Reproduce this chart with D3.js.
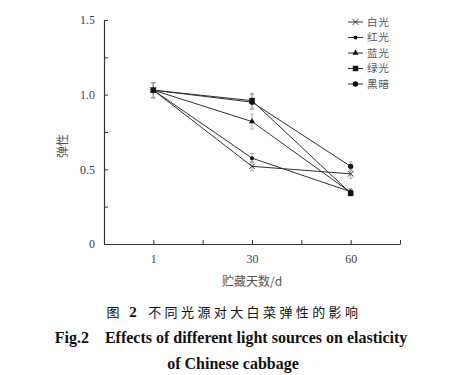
<!DOCTYPE html>
<html>
<head>
<meta charset="utf-8">
<script src="https://cdn.jsdelivr.net/npm/d3@7"></script>
<style>
  body { margin: 0; background: #fff; }
  .axis text { font-family: "Liberation Serif", serif; font-size: 12px; fill: #444; }
  .axis path, .axis line { stroke: #333; }
</style>
</head>
<body>
<svg width="452" height="375"></svg>
<script>
// storage days (categories) and elasticity of each light treatment
var days = ["1", "30", "60"];
var seriesNames = ["白光", "红光", "蓝光", "绿光", "黑暗"];
var white = [1.03, 0.52, 0.47];
var red   = [1.03, 0.575, 0.35];
var blue  = [1.03, 0.82, 0.345];
var green = [1.03, 0.96, 0.34];
var dark  = [1.03, 0.95, 0.52];
var whiteErr = [0.05, 0.03, 0.03];
var redErr   = [0.05, 0.03, 0.02];
var blueErr  = [0.05, 0.05, 0.02];
var greenErr = [0.05, 0.05, 0.02];
var darkErr  = [0.05, 0.05, 0.03];
var yTicks = [0, 0.25, 0.5, 0.75, 1.0, 1.25, 1.5];

var series = [
  {name: seriesNames[0], values: white, err: whiteErr, symbol: "star"},
  {name: seriesNames[1], values: red,   err: redErr,   symbol: "dot"},
  {name: seriesNames[2], values: blue,  err: blueErr,  symbol: "triangle"},
  {name: seriesNames[3], values: green, err: greenErr, symbol: "square"},
  {name: seriesNames[4], values: dark,  err: darkErr,  symbol: "circle"}
];

var svg = d3.select("svg"),
    margin = {top: 20, right: 52, bottom: 131, left: 104},
    width = +svg.attr("width") - margin.left - margin.right,
    height = +svg.attr("height") - margin.top - margin.bottom;

// x is a half-step scale: categories sit at 1,3,5 ; ticks every step
var x = d3.scaleLinear().domain([0, days.length * 2]).range([0, width]),
    y = d3.scaleLinear().domain([0, 1.5]).range([height, 0]);

var g = svg.append("g")
   .attr("transform", "translate(" + margin.left + "," + margin.top + ")");

var xAxis = d3.axisBottom(x)
   .tickValues(d3.range(0, days.length * 2 + 1))
   .tickSizeInner(-4).tickSizeOuter(0)
   .tickPadding(10)
   .tickFormat(function(d) { return d % 2 === 1 ? days[(d - 1) / 2] : ""; });

var yAxis = d3.axisLeft(y)
   .tickValues(yTicks)
   .tickSizeInner(-4).tickSizeOuter(0)
   .tickPadding(9)
   .tickFormat(function(d) {
     if (d === 0) return "0";
     return (d * 2) % 1 === 0 ? d3.format(".1f")(d) : "";
   });

g.append("g")
   .attr("class", "axis axis--x")
   .attr("transform", "translate(0," + height + ")")
   .call(xAxis)
   .call(function(s) { s.select(".domain").attr("stroke-width", 1.2); });

g.append("g")
   .attr("class", "axis axis--y")
   .call(yAxis)
   .call(function(s) { s.select(".domain").attr("stroke-width", 1.2); });

// axis titles
svg.append("text")
   .attr("text-anchor", "middle")
   .attr("transform", "translate(" + (margin.left + width / 2) + "," + (margin.top + height + 42) + ")")
   .style("font-family", "'Noto Sans CJK SC', sans-serif")
   .style("font-size", "12px")
   .attr("fill", "#555")
   .text("贮藏天数/d");

svg.append("text")
   .attr("text-anchor", "middle")
   .attr("transform", "translate(67," + (margin.top + height / 2 + 14) + ")rotate(-90)")
   .style("font-family", "'Noto Sans CJK SC', sans-serif")
   .style("font-size", "12px")
   .attr("fill", "#555")
   .text("弹性");

function drawSymbol(sel, type, cx, cy) {
  if (type === "star") {
    sel.append("path")
       .attr("d", d3.symbol().type(d3.symbolX).size(22)())
       .attr("transform", "translate(" + cx + "," + cy + ")")
       .attr("fill", "none").attr("stroke", "#333").attr("stroke-width", 1);
  } else if (type === "dot") {
    sel.append("circle").attr("cx", cx).attr("cy", cy).attr("r", 2).attr("fill", "#111");
  } else if (type === "triangle") {
    sel.append("path")
       .attr("d", d3.symbol().type(d3.symbolTriangle).size(16)())
       .attr("transform", "translate(" + cx + "," + cy + ")")
       .attr("fill", "#111");
  } else if (type === "square") {
    sel.append("path")
       .attr("d", d3.symbol().type(d3.symbolSquare).size(30)())
       .attr("transform", "translate(" + cx + "," + cy + ")")
       .attr("fill", "#111");
  } else {
    sel.append("circle").attr("cx", cx).attr("cy", cy).attr("r", 2.7).attr("fill", "#111");
  }
}

var line = d3.line()
   .x(function(d, i) { return x(i * 2 + 1); })
   .y(function(d) { return y(d); });

// error bars
series.forEach(function(s) {
  var eb = g.append("g").attr("class", "errbar");
  s.values.forEach(function(v, i) {
    var cx = x(i * 2 + 1);
    eb.append("line").attr("x1", cx).attr("x2", cx)
      .attr("y1", y(v - s.err[i])).attr("y2", y(v + s.err[i]))
      .attr("stroke", "#999").attr("stroke-width", 0.8);
    [v - s.err[i], v + s.err[i]].forEach(function(e) {
      eb.append("line").attr("x1", cx - 2).attr("x2", cx + 2)
        .attr("y1", y(e)).attr("y2", y(e))
        .attr("stroke", "#999").attr("stroke-width", 0.8);
    });
  });
});

// lines and markers
series.forEach(function(s) {
  g.append("path")
   .datum(s.values)
   .attr("fill", "none")
   .attr("stroke", "#333")
   .attr("stroke-width", 1)
   .attr("d", line);
  var mk = g.append("g");
  s.values.forEach(function(v, i) { drawSymbol(mk, s.symbol, x(i * 2 + 1), y(v)); });
});

// legend
var legend = svg.append("g")
   .attr("class", "legend")
   .selectAll("g")
   .data(series)
   .enter().append("g")
   .attr("transform", function(d, i) { return "translate(348," + (22 + i * 15.5) + ")"; });

legend.append("line")
   .attr("x1", 0).attr("x2", 15)
   .attr("stroke", "#333").attr("stroke-width", 1);

legend.each(function(d) { drawSymbol(d3.select(this), d.symbol, 7.5, 0); });

legend.append("text")
   .attr("x", 19)
   .attr("dy", "0.36em")
   .style("font-family", "'Noto Sans CJK SC', sans-serif")
   .style("font-size", "10.5px")
   .style("letter-spacing", "1px")
   .attr("fill", "#555")
   .text(function(d) { return d.name; });

// figure captions
var cap = svg.append("text")
   .attr("x", 234).attr("y", 317)
   .attr("text-anchor", "middle")
   .style("font-family", "'Noto Sans CJK SC', sans-serif")
   .style("font-size", "13px")
   .style("letter-spacing", "3.4px")
   .attr("fill", "#111");
cap.append("tspan").text("图 ");
cap.append("tspan").style("font-family", "'Liberation Serif', serif").style("font-weight", "bold").style("font-size", "15px").text("2");
cap.append("tspan").attr("dx", 8).text("不同光源对大白菜弹性的影响");

svg.append("text")
   .attr("x", 231).attr("y", 343)
   .attr("text-anchor", "middle")
   .style("font-family", "'Liberation Serif', serif")
   .style("font-size", "16px")
   .style("font-weight", "bold")
   .attr("fill", "#111")
   .attr("xml:space", "preserve")
   .text("Fig.2    Effects of different light sources on elasticity");

svg.append("text")
   .attr("x", 233).attr("y", 369)
   .attr("text-anchor", "middle")
   .style("font-family", "'Liberation Serif', serif")
   .style("font-size", "16px")
   .style("font-weight", "bold")
   .attr("fill", "#111")
   .text("of Chinese cabbage");
</script>
</body>
</html>
